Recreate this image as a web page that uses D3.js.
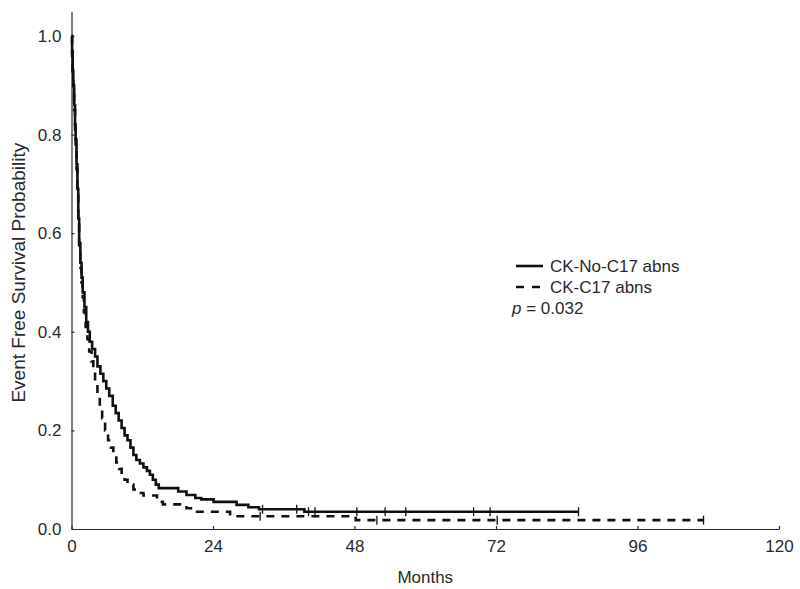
<!DOCTYPE html>
<html>
<head>
<meta charset="utf-8">
<script src="https://cdn.jsdelivr.net/npm/d3@7"></script>
<style>
  html, body { margin: 0; padding: 0; background: #fff; }
  svg { display: block; font-family: "Liberation Sans", Arial, sans-serif; }
  .axis text { font-size: 17px; fill: #2a2a2a; }
  .axis path, .axis line { stroke: #2a2a2a; stroke-width: 1.2; }
</style>
</head>
<body>
<svg id="chart" width="800" height="589"></svg>
<script>
/* Datos: curvas Kaplan-Meier (meses, supervivencia) */
const noC17Times = [0, 0.1, 0.2, 0.3, 0.45, 0.6, 0.7, 0.85, 1.0, 1.15, 1.3, 1.5, 1.7, 1.9, 2.2, 2.5, 2.8, 3.1, 3.5, 4.0, 4.4, 4.9, 5.4, 5.9, 6.4, 7.0, 7.5, 8.0, 8.5, 9.0, 9.5, 10.0, 10.5, 11.0, 11.6, 12.2, 12.8, 13.3, 13.8, 14.3, 14.8, 18.1, 19.5, 21.0, 22.0, 24.1, 28.0, 30.0, 31.8, 39.5];
const noC17Surv  = [1.0, 0.97, 0.93, 0.90, 0.86, 0.82, 0.79, 0.74, 0.69, 0.63, 0.58, 0.54, 0.51, 0.48, 0.45, 0.42, 0.40, 0.38, 0.365, 0.35, 0.33, 0.315, 0.30, 0.285, 0.27, 0.25, 0.235, 0.22, 0.205, 0.19, 0.18, 0.165, 0.15, 0.14, 0.133, 0.125, 0.118, 0.11, 0.10, 0.09, 0.083, 0.076, 0.069, 0.063, 0.060, 0.055, 0.049, 0.044, 0.040, 0.035];
const noC17Censored = [32.4, 38.2, 40.2, 41.3, 48.4, 53.2, 56.7, 68.2, 71.0, 86.0];

const c17Times = [0, 0.1, 0.2, 0.3, 0.45, 0.6, 0.7, 0.85, 1.0, 1.15, 1.3, 1.5, 1.7, 1.9, 2.1, 2.4, 2.7, 3.0, 3.4, 3.7, 4.0, 4.4, 4.8, 5.2, 5.7, 6.2, 6.7, 7.1, 7.6, 8.1, 8.5, 9.0, 9.5, 10.5, 11.2, 12.2, 14.5, 15.5, 19.5, 21.0, 26.9, 48.2];
const c17Surv  = [1.0, 0.96, 0.92, 0.89, 0.85, 0.81, 0.78, 0.73, 0.68, 0.62, 0.57, 0.53, 0.50, 0.47, 0.44, 0.41, 0.385, 0.36, 0.34, 0.32, 0.30, 0.27, 0.25, 0.225, 0.20, 0.18, 0.165, 0.15, 0.135, 0.122, 0.11, 0.10, 0.09, 0.08, 0.073, 0.068, 0.055, 0.050, 0.042, 0.035, 0.026, 0.018];
const c17Censored = [32.0, 51.8, 72.2, 107.2];

const xTicks = [0, 24, 48, 72, 96, 120];
const yTicks = [0, 0.2, 0.4, 0.6, 0.8, 1.0];
const legendLabels = ["CK-No-C17 abns", "CK-C17 abns"];
const pValue = "0.032";

/* Escalas */
const svg = d3.select("#chart");
const x = d3.scaleLinear().domain([0, 120]).range([71.5, 779]);
const y = d3.scaleLinear().domain([0, 1.05]).range([529, 11.4]);

/* Ejes */
svg.append("g")
  .attr("class", "axis")
  .attr("transform", `translate(0,${y(0)})`)
  .call(d3.axisBottom(x).tickValues(xTicks).tickSizeInner(-3).tickSizeOuter(0).tickPadding(11).tickFormat(d3.format("d")))
  .call(g => g.selectAll("text").attr("dy", "0.71em"));

svg.append("g")
  .attr("class", "axis")
  .attr("transform", `translate(${x(0)},0)`)
  .call(d3.axisLeft(y).tickValues(yTicks).tickSizeInner(-3).tickSizeOuter(0).tickPadding(10).tickFormat(d3.format(".1f")));

svg.append("text")
  .attr("x", (x(0) + x(120)) / 2).attr("y", 583)
  .attr("text-anchor", "middle").attr("font-size", 17).attr("fill", "#2a2a2a")
  .text("Months");

svg.append("text")
  .attr("transform", `translate(25,${y(0.52)}) rotate(-90)`)
  .attr("text-anchor", "middle").attr("font-size", 19).attr("fill", "#2a2a2a")
  .text("Event Free Survival Probability");

/* Curvas */
function series(times, surv, censored) {
  const pts = times.map((t, i) => [t, surv[i]]);
  pts.push([d3.max(censored), surv[surv.length - 1]]);
  return pts;
}
function survAt(times, surv, t) {
  const i = d3.bisectRight(times, t) - 1;
  return surv[Math.max(0, i)];
}

const line = d3.line().x(d => x(d[0])).y(d => y(d[1])).curve(d3.curveStepAfter);

const groups = [
  { times: noC17Times, surv: noC17Surv, cens: noC17Censored, dash: null },
  { times: c17Times, surv: c17Surv, cens: c17Censored, dash: "8,7" }
];

groups.forEach(gr => {
  svg.append("path")
    .datum(series(gr.times, gr.surv, gr.cens))
    .attr("d", line)
    .attr("fill", "none")
    .attr("stroke", "#111")
    .attr("stroke-width", 2.6)
    .attr("stroke-dasharray", gr.dash);

  svg.append("g").selectAll("line")
    .data(gr.cens)
    .join("line")
    .attr("x1", d => x(d)).attr("x2", d => x(d))
    .attr("y1", d => y(survAt(gr.times, gr.surv, d)) - 4.5)
    .attr("y2", d => y(survAt(gr.times, gr.surv, d)) + 4.5)
    .attr("stroke", "#111")
    .attr("stroke-width", 1.3);
});

/* Leyenda */
const leg = svg.append("g");
leg.append("line").attr("x1", 516).attr("x2", 543).attr("y1", 266).attr("y2", 266)
  .attr("stroke", "#111").attr("stroke-width", 2.6);
leg.append("line").attr("x1", 516).attr("x2", 540).attr("y1", 287).attr("y2", 287)
  .attr("stroke", "#111").attr("stroke-width", 2.6).attr("stroke-dasharray", "8,8");
leg.selectAll("text.lab")
  .data(legendLabels)
  .join("text")
  .attr("class", "lab")
  .attr("x", 550).attr("y", (d, i) => 272 + i * 21)
  .attr("font-size", 17).attr("fill", "#2a2a2a")
  .text(d => d);
const pt = leg.append("text").attr("x", 512).attr("y", 314).attr("font-size", 17).attr("fill", "#2a2a2a");
pt.append("tspan").attr("font-style", "italic").text("p");
pt.append("tspan").text(` = ${pValue}`);
</script>
</body>
</html>
